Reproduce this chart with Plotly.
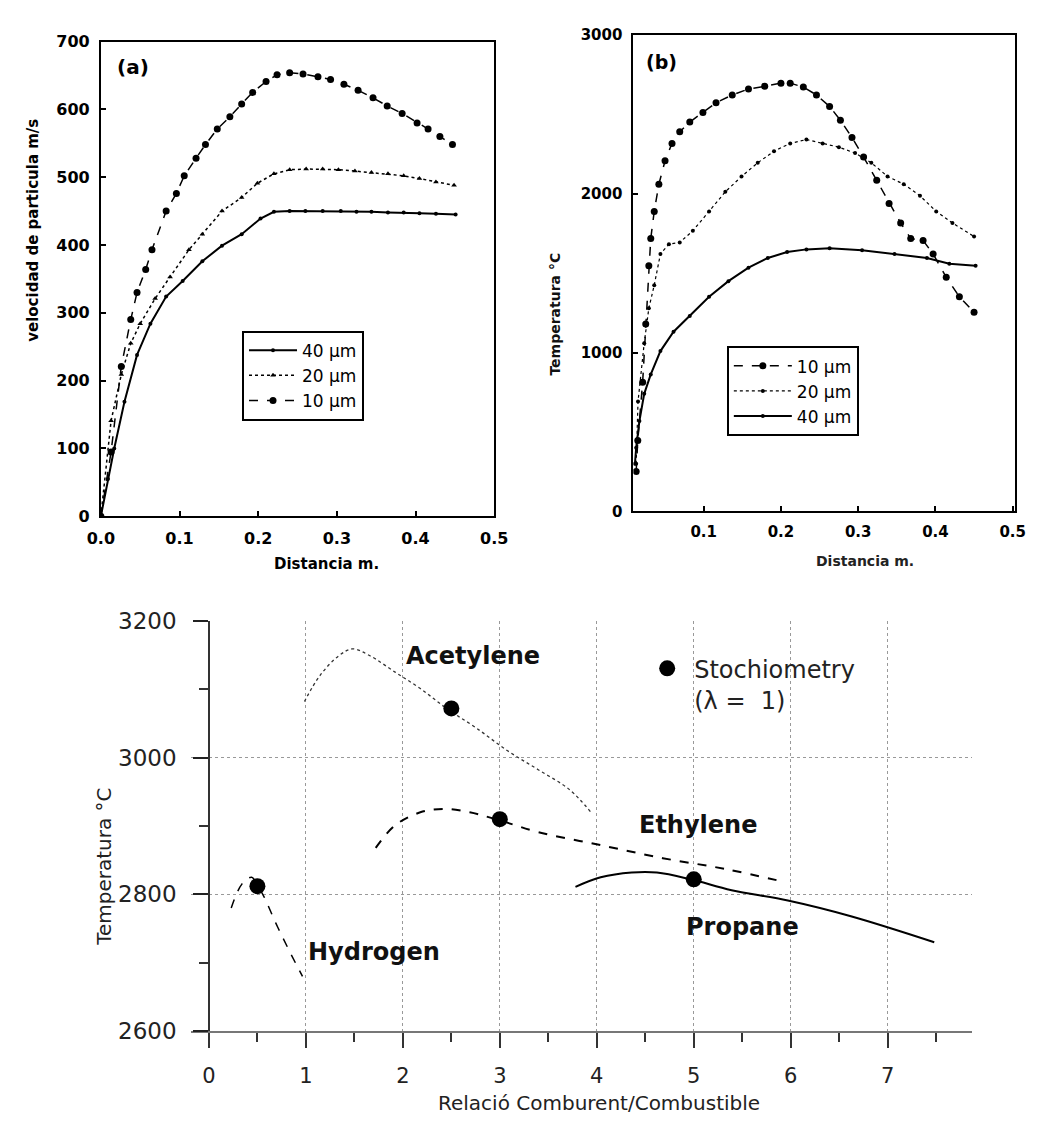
import plotly.graph_objects as go

# ---------------- Panel (a): particle velocity vs distance ----------------
a40_x = [0.0, 0.009, 0.017, 0.030, 0.046, 0.063, 0.083, 0.104, 0.129, 0.154, 0.179, 0.203, 0.220, 0.240,
         0.260, 0.282, 0.305, 0.325, 0.344, 0.365, 0.385, 0.405, 0.426, 0.451]
a40_y = [0, 55, 100, 169, 238, 284, 324, 347, 376, 399, 416, 439, 449, 450,
         450, 450, 450, 449, 449, 448, 448, 447, 446, 445]

a20_x = [0.0, 0.013, 0.026, 0.038, 0.050, 0.069, 0.088, 0.112, 0.129, 0.154, 0.179, 0.199, 0.220, 0.240,
         0.261, 0.282, 0.302, 0.323, 0.344, 0.365, 0.385, 0.405, 0.426, 0.449]
a20_y = [0, 141, 209, 255, 284, 321, 353, 393, 416, 450, 470, 491, 505, 511,
         512, 512, 511, 509, 507, 505, 502, 498, 493, 488]

a10_x = [0.0, 0.013, 0.026, 0.038, 0.046, 0.057, 0.065, 0.083, 0.096, 0.106, 0.121, 0.133, 0.148, 0.164,
         0.179, 0.193, 0.210, 0.224, 0.240, 0.257, 0.276, 0.292, 0.309, 0.327, 0.346, 0.364, 0.383,
         0.402, 0.416, 0.431, 0.447]
a10_y = [0, 95, 221, 290, 330, 364, 393, 450, 476, 502, 528, 548, 571, 589,
         608, 625, 641, 651, 654, 652, 648, 644, 637, 628, 617, 605, 594,
         580, 571, 560, 548]

# ---------------- Panel (b): particle temperature vs distance ----------------
b10_x = [0.0126, 0.0147, 0.021, 0.025, 0.029, 0.0315, 0.036, 0.042, 0.050, 0.059, 0.069, 0.082, 0.099,
         0.116, 0.137, 0.158, 0.179, 0.200, 0.212, 0.229, 0.246, 0.263, 0.277, 0.292, 0.307, 0.324,
         0.340, 0.355, 0.368, 0.384, 0.397, 0.414, 0.431, 0.450]
b10_y = [252, 447, 813, 1180, 1546, 1717, 1888, 2059, 2206, 2316, 2389, 2450, 2511,
         2572, 2621, 2658, 2675, 2695, 2695, 2670, 2621, 2548, 2462, 2353, 2230, 2084,
         1937, 1815, 1717, 1705, 1620, 1473, 1351, 1253]

b20_x = [0.0126, 0.015, 0.023, 0.029, 0.036, 0.044, 0.055, 0.069, 0.086, 0.107, 0.128, 0.149, 0.170,
         0.191, 0.212, 0.233, 0.254, 0.275, 0.296, 0.317, 0.338, 0.359, 0.380, 0.401, 0.422, 0.450]
b20_y = [300, 691, 1058, 1278, 1424, 1620, 1681, 1693, 1766, 1888, 2011, 2108, 2194,
         2267, 2316, 2340, 2316, 2292, 2255, 2194, 2108, 2059, 1986, 1888, 1815, 1730]

b40_x = [0.011, 0.0126, 0.0168, 0.023, 0.0315, 0.044, 0.061, 0.082, 0.107, 0.132, 0.158, 0.183, 0.208,
         0.233, 0.263, 0.305, 0.347, 0.389, 0.418, 0.452]
b40_y = [300, 400, 569, 740, 862, 1009, 1131, 1229, 1351, 1449, 1534, 1595, 1632,
         1649, 1656, 1644, 1620, 1595, 1559, 1546]

# ---------------- Bottom panel: flame temperature vs oxidant/fuel ratio ----------------
acet_x = [0.985, 1.145, 1.34, 1.48, 1.66, 1.92, 2.18, 2.46, 2.75, 3.08, 3.40, 3.72, 3.94]
acet_y = [3082, 3120, 3149, 3159, 3149, 3125, 3101, 3071, 3044, 3010, 2982, 2953, 2920]

ethy_x = [1.72, 1.92, 2.18, 2.43, 2.69, 2.98, 3.40, 4.04, 4.68, 5.33, 5.94]
ethy_y = [2868, 2901, 2920, 2925, 2920, 2909, 2891, 2872, 2853, 2837, 2818]

hydr_x = [0.23, 0.34, 0.44, 0.50, 0.57, 0.69, 0.82, 0.965]
hydr_y = [2780, 2815, 2825, 2813, 2796, 2758, 2720, 2680]

prop_x = [3.78, 4.04, 4.36, 4.62, 4.97, 5.39, 5.97, 6.62, 7.48]
prop_y = [2811, 2825, 2832, 2832, 2822, 2806, 2791, 2768, 2730]

stoich_x = [0.5, 2.5, 3.0, 5.0]
stoich_y = [2812, 3072, 2910, 2822]

gas_names = ["Acetylene", "Ethylene", "Hydrogen", "Propane"]
gas_label_x = [2.72, 5.04, 1.70, 5.50]
gas_label_y = [3148, 2902, 2716, 2753]

W, H = 1058, 1128
OFF = 8  # the page body has an 8 px margin; positions below are window pixels


def px(x):
    return (x - OFF) / W


def py(y):
    return 1 - (y - OFF) / H


fig = go.Figure()

FAM = "DejaVu Sans, Liberation Sans, Arial, sans-serif"

# panel (a) traces (legend order: 40, 20, 10)
fig.add_trace(go.Scatter(x=a40_x, y=a40_y, mode="lines+markers", name="40 µm",
                         line=dict(color="black", width=2),
                         marker=dict(symbol="circle", size=4, color="black"),
                         xaxis="x", yaxis="y", legend="legend", legendgroup="a40"))
fig.add_trace(go.Scatter(x=a20_x, y=a20_y, mode="lines+markers", name="20 µm",
                         line=dict(color="black", width=1.5, dash="dot"),
                         marker=dict(symbol="triangle-up", size=5, color="black"),
                         xaxis="x", yaxis="y", legend="legend", legendgroup="a20"))
fig.add_trace(go.Scatter(x=a10_x, y=a10_y, mode="lines+markers", name="10 µm",
                         line=dict(color="black", width=1.5, dash="dash"),
                         marker=dict(symbol="circle", size=7, color="black"),
                         xaxis="x", yaxis="y", legend="legend", legendgroup="a10"))

# panel (b) traces (legend order: 10, 20, 40)
fig.add_trace(go.Scatter(x=b10_x, y=b10_y, mode="lines+markers", name="10 µm",
                         line=dict(color="black", width=1.5, dash="dash"),
                         marker=dict(symbol="circle", size=7, color="black"),
                         xaxis="x2", yaxis="y2", legend="legend2", legendgroup="b10"))
fig.add_trace(go.Scatter(x=b20_x, y=b20_y, mode="lines+markers", name="20 µm",
                         line=dict(color="black", width=1.2, dash="dot"),
                         marker=dict(symbol="circle", size=4, color="black"),
                         xaxis="x2", yaxis="y2", legend="legend2", legendgroup="b20"))
fig.add_trace(go.Scatter(x=b40_x, y=b40_y, mode="lines+markers", name="40 µm",
                         line=dict(color="black", width=2),
                         marker=dict(symbol="circle", size=4, color="black"),
                         xaxis="x2", yaxis="y2", legend="legend2", legendgroup="b40"))

# bottom panel curves
fig.add_trace(go.Scatter(x=acet_x, y=acet_y, mode="lines", line=dict(color="#333", width=1.3, dash="dot", shape="spline"),
                         xaxis="x3", yaxis="y3", showlegend=False))
fig.add_trace(go.Scatter(x=ethy_x, y=ethy_y, mode="lines", line=dict(color="black", width=2, dash="dash", shape="spline"),
                         xaxis="x3", yaxis="y3", showlegend=False))
fig.add_trace(go.Scatter(x=hydr_x, y=hydr_y, mode="lines", line=dict(color="black", width=1.5, dash="dash", shape="spline"),
                         xaxis="x3", yaxis="y3", showlegend=False))
fig.add_trace(go.Scatter(x=prop_x, y=prop_y, mode="lines", line=dict(color="black", width=2, shape="spline"),
                         xaxis="x3", yaxis="y3", showlegend=False))
fig.add_trace(go.Scatter(x=stoich_x, y=stoich_y, mode="markers", name="Stochiometry<br>(λ =  1)",
                         marker=dict(symbol="circle", size=16, color="black"),
                         xaxis="x3", yaxis="y3", legend="legend3"))


def top_axis(size):
    return dict(showline=True, linecolor="black", linewidth=2, mirror=True, ticks="inside",
                ticklen=5, tickwidth=2, tickcolor="black", showgrid=False, zeroline=False,
                ticklabelstandoff=6,
                tickfont=dict(family=FAM, size=size, color="black", weight="bold"))


legend_common = dict(xanchor="left", yanchor="top", bgcolor="white", bordercolor="black", borderwidth=2,
                     font=dict(family=FAM, size=17, color="black"), traceorder="normal", tracegroupgap=2)

fig.update_layout(
    width=W, height=H, autosize=False,
    margin=dict(l=0, r=0, t=0, b=0),
    paper_bgcolor="white", plot_bgcolor="white",
    xaxis=dict(domain=[px(89), px(493)], range=[0, 0.5], tickvals=[0, 0.1, 0.2, 0.3, 0.4, 0.5],
               ticktext=["0.0", "0.1", "0.2", "0.3", "0.4", "0.5"], anchor="y", **top_axis(16)),
    yaxis=dict(domain=[py(515), py(29)], range=[0, 700], tickvals=list(range(0, 701, 100)), anchor="x", **top_axis(16)),
    xaxis2=dict(domain=[px(636), px(1028)], range=[0.009, 0.503], tickvals=[0.1, 0.2, 0.3, 0.4, 0.5],
                ticktext=["0.1", "0.2", "0.3", "0.4", "0.5"], anchor="y2", **top_axis(15)),
    yaxis2=dict(domain=[py(510), py(22)], range=[0, 3000], tickvals=[0, 1000, 2000, 3000], anchor="x2", **top_axis(15)),
    xaxis3=dict(domain=[px(182), px(984)], range=[-0.1807, 7.871], anchor="y3",
                tickvals=list(range(0, 8)), ticks="outside", ticklen=15, tickwidth=1.5, tickcolor="#333",
                minor=dict(dtick=0.5, tick0=0, ticks="outside", ticklen=9, tickcolor="#333", showgrid=False),
                showline=True, linecolor="#777", linewidth=2, zeroline=False,
                showgrid=True, gridcolor="#999", griddash="dot", gridwidth=1,
                ticklabelstandoff=10,
                tickfont=dict(family=FAM, size=21, color="#222")),
    yaxis3=dict(domain=[py(1042), py(622)], range=[2600, 3200], anchor="free", position=px(200),
                tickvals=[2600, 2800, 3000, 3200], ticks="outside", ticklen=15, tickwidth=1.8, tickcolor="#222",
                minor=dict(dtick=100, tick0=2600, ticks="outside", ticklen=9, tickcolor="#333", showgrid=False),
                showline=True, linecolor="#333", linewidth=1.5, zeroline=False,
                showgrid=True, gridcolor="#999", griddash="dot", gridwidth=1,
                ticklabelstandoff=12,
                tickfont=dict(family=FAM, size=23, color="#222")),
    legend=dict(x=px(234), y=py(325), itemwidth=48, **legend_common),
    legend2=dict(x=px(732), y=py(341), itemwidth=58, **legend_common),
    legend3=dict(x=px(643), y=py(648), xanchor="left", yanchor="top", bgcolor="rgba(0,0,0,0)",
                 borderwidth=0, valign="top", itemwidth=44,
                 font=dict(family=FAM, size=24, color="#222")),
)

annotations = []


def ann(x, y, text, size, color="black", angle=0):
    annotations.append(dict(x=px(x), y=py(y), text=text, showarrow=False, xref="paper", yref="paper",
                            xanchor="center", yanchor="middle", textangle=angle,
                            font=dict(family=FAM, size=size, color=color)))


ann(122, 55, "<b>(a)</b>", 20)
ann(665, 50, "<b>(b)</b>", 19)
ann(321, 564, "<b>Distancia m.</b>", 15)
ann(19, 222, "<b>velocidad de particula m/s</b>", 15, angle=-90)
ann(874, 561, "<b>Distancia m.</b>", 14, "#222")
ann(556, 308, "<b>Temperatura °C</b>", 14, "#111", angle=-90)
ann(92, 874, "Temperatura °C", 20, "#222", angle=-90)
ann(601, 1116, "Relació Comburent/Combustible", 20, "#222")

# gas labels
for name, gx, gy in zip(gas_names, gas_label_x, gas_label_y):
    annotations.append(dict(x=gx, y=gy, xref="x3", yref="y3", text=f"<b>{name}</b>", showarrow=False,
                            xanchor="center", yanchor="middle",
                            font=dict(family=FAM, size=24, color="#111")))

fig.update_layout(annotations=annotations)

fig.write_html("out.html")
